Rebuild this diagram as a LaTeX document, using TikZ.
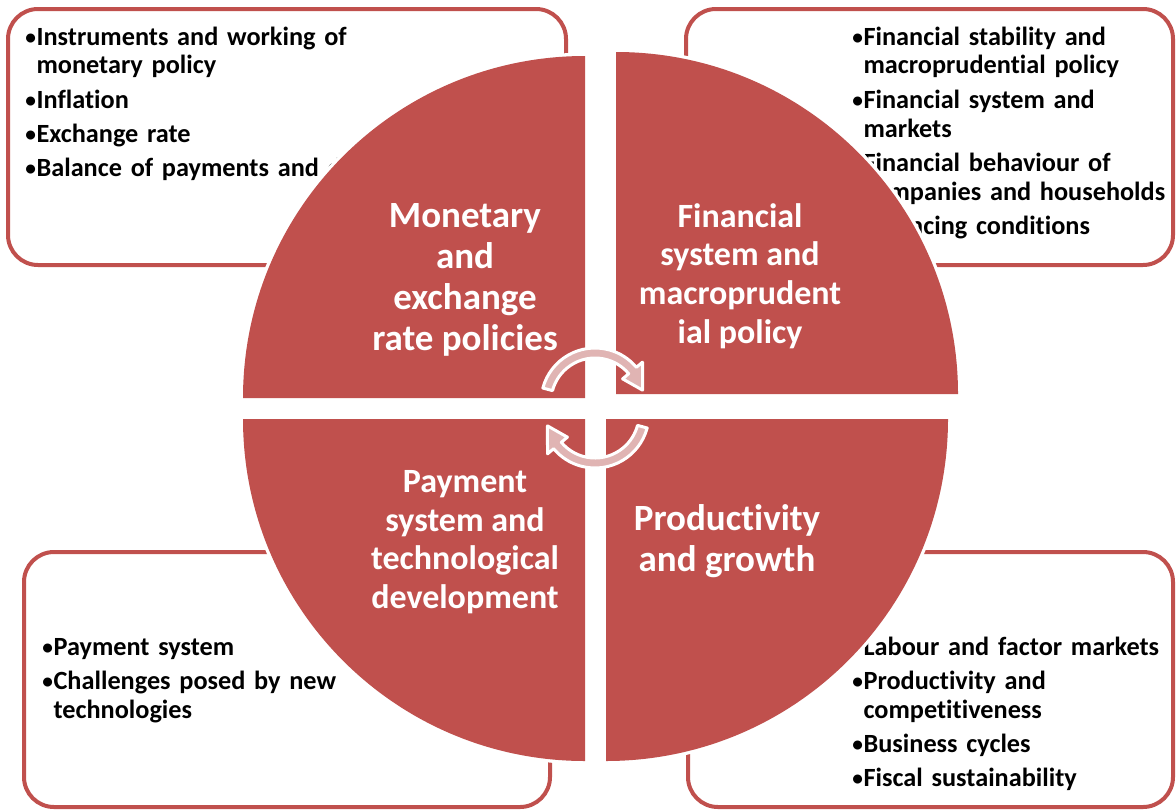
\documentclass[tikz,border=0pt]{standalone}
\usepackage{fontspec}
\setmainfont{Carlito}[Ligatures=NoCommon]
\usetikzlibrary{positioning}
\definecolor{accred}{HTML}{C0504D}
\definecolor{cyclepink}{HTML}{E0B4B3}

\newcommand{\bitem}[1]{\par\raggedright\hyphenpenalty=10000
  \hangindent=8.5pt\hangafter=1\noindent
  \hbox to 8.5pt{\raisebox{0.6pt}{\fontsize{16}{16}\selectfont\textbullet}\hss}#1\par\vskip3.75pt}

\begin{document}
\begin{tikzpicture}[
  x=0.75pt, y=-0.75pt,
  box/.style={draw=accred, line width=3pt, fill=white, rounded corners=22.5pt},
  items/.style={anchor=base west, inner sep=0pt, align=left,
                font=\fontsize{19.7}{21.75}\selectfont\bfseries},
  halo/.style={draw=white, line width=5pt, line join=round},
  quad/.style={fill=accred},
  lab/.style={text=white, align=center, inner sep=0pt,
              font=\fontsize{27.75}{30.75}\selectfont\bfseries},
  labsm/.style={lab, font=\fontsize{25.5}{28.9}\selectfont\bfseries},
  cyc/.style={fill=cyclepink, draw=white, line width=2.25pt, line join=round}
]
\useasboundingbox (0,0) rectangle (1176,810);

% Topic boxes
\draw[box] (8,9) rectangle (566,265);
\draw[box] (686,9) rectangle (1173,265);
\draw[box] (24,552) rectangle (550,807);
\draw[box] (688,552) rectangle (1173,807);

\node[items, text width=285pt] (Btl) at (25,16) {%
  \bitem{Instruments and working of monetary policy}%
  \bitem{Inflation}%
  \bitem{Exchange rate}%
  \bitem{Balance of payments and debt}%
};
\node[items, text width=243pt] (Btr) at (852,16) {%
  \bitem{Financial stability and macroprudential policy}%
  \bitem{Financial system and markets}%
  \bitem{Financial behaviour of companies and households}%
  \bitem{Financing conditions}%
};
\node[items, text width=255pt] (Bbl) at (42,626) {%
  \bitem{Payment system}%
  \bitem{Challenges posed by new technologies}%
};
\node[items, text width=243pt] (Bbr) at (852,626) {%
  \bitem{Labour and factor markets}%
  \bitem{Productivity and competitiveness}%
  \bitem{Business cycles}%
  \bitem{Fiscal sustainability}%
};

% Four quarters of the circle (corner x / corner y / start angle)
\foreach \cx/\cy/\sa in {585/398/180, 616/394/270, 585/419/90, 606/419/0}
  \path[halo] (\cx,\cy) -- ++(\sa:342) arc[start angle=\sa, end angle=\sa+90, radius=342] -- cycle;
\foreach \cx/\cy/\sa in {585/398/180, 616/394/270, 585/419/90, 606/419/0}
  \path[quad] (\cx,\cy) -- ++(\sa:342) arc[start angle=\sa, end angle=\sa+90, radius=342] -- cycle;

% Quarter titles
\node[lab] (Ttl) at (465,280) {Monetary\\and\\exchange\\rate policies};
\node[labsm] (Ttr) at (740,276) {Financial\\system and\\macroprudent\\ial policy};
\node[labsm] (Tbl) at (465,542) {Payment\\system and\\technological\\development};
\node[lab] (Tbr) at (727,541) {Productivity\\and growth};

% Cycle arrows in the middle
\path[cyc, shift={(595,402)}]
  (-165:54) arc[start angle=-165, end angle=-40, radius=54]
  -- (-40:62) -- (-14:49) -- (-40:36) -- (-40:44)
  arc[start angle=-40, end angle=-165, radius=44] -- cycle;
\path[cyc, shift={(595,414)}, rotate=180]
  (-165:54) arc[start angle=-165, end angle=-40, radius=54]
  -- (-40:62) -- (-14:49) -- (-40:36) -- (-40:44)
  arc[start angle=-40, end angle=-165, radius=44] -- cycle;

\end{tikzpicture}
\end{document}
